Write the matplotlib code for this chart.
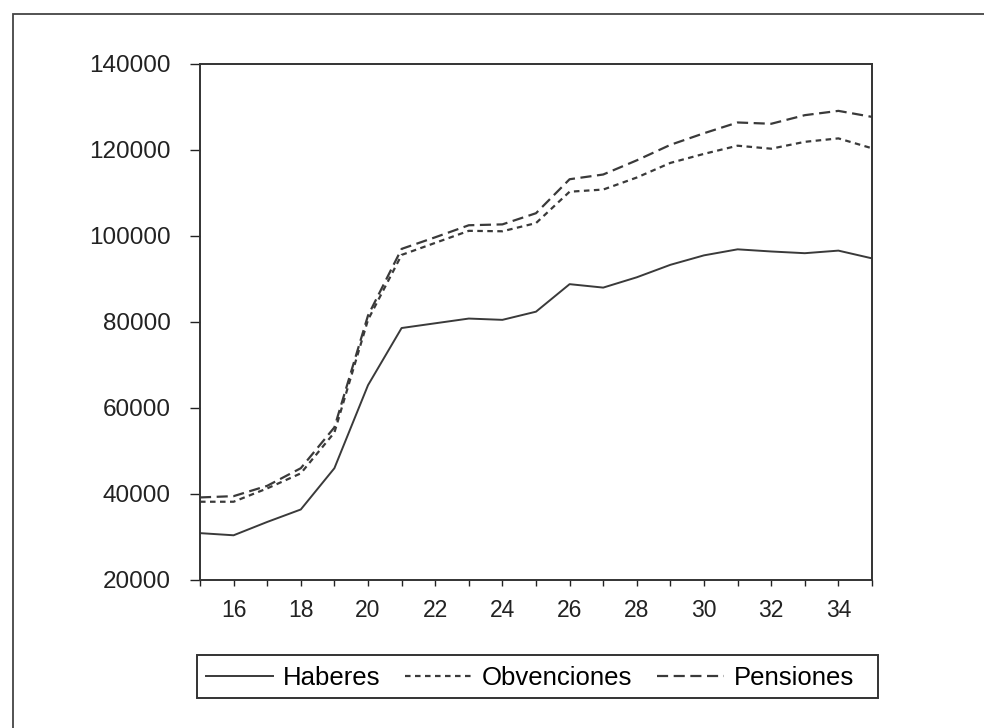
import matplotlib
matplotlib.use('Agg')
import matplotlib.pyplot as plt
from matplotlib.patches import Rectangle
from matplotlib.ticker import MultipleLocator

plt.rcParams['font.family'] = ['Liberation Sans', 'DejaVu Sans']

# datos
edad = list(range(15, 36))
haberes = [30900, 30400, 33500, 36400, 46000, 65300, 78600, 79700, 80800, 80500,
           82400, 88800, 88000, 90400, 93300, 95500, 96900, 96400, 96000, 96600, 94800]
obvenciones = [38200, 38200, 41300, 44800, 54300, 80500, 95600, 98400, 101200, 101100,
               103000, 110300, 110800, 113600, 117000, 119100, 121000, 120300, 121900, 122700, 120400]
pensiones = [39200, 39500, 41900, 46000, 55500, 81500, 97000, 99700, 102500, 102700,
             105300, 113200, 114300, 117600, 121200, 123900, 126400, 126100, 128100, 129100, 127700]

color_linea = '#3a3a3a'

fig = plt.figure(figsize=(9.84, 7.28), dpi=100)
ax = fig.add_axes([200/984, 1-580/728, 672/984, 516/728])

ax.plot(edad, haberes, color=color_linea, lw=1.4, linestyle='-', label='Haberes')
ax.plot(edad, obvenciones, color=color_linea, lw=1.6, linestyle=(0, (2.5, 2)), label='Obvenciones')
ax.plot(edad, pensiones, color=color_linea, lw=1.6, linestyle=(0, (5, 2.5)), label='Pensiones')

ax.set_xlim(15, 35)
ax.set_ylim(20000, 140000)
ax.xaxis.set_major_locator(MultipleLocator(2))
ax.xaxis.set_minor_locator(MultipleLocator(1))
ax.set_xticks(range(16, 35, 2))
ax.set_yticks(range(20000, 140001, 20000))

ax.tick_params(axis='y', direction='out', length=7, width=1, pad=14,
               labelsize=17.5, colors='#222222')
ax.tick_params(axis='x', which='both', direction='out', length=4, width=1, pad=10,
               labelsize=16.5, colors='#222222')

for s in ax.spines.values():
    s.set_color('#333333')
    s.set_linewidth(1.4)

# leyenda sin marco, el recuadro se dibuja aparte
fig.legend(loc='center left', bbox_to_anchor=(206/984, 1-678/728),
           ncol=3, fontsize=18.5, frameon=False, handlelength=2.6, handletextpad=0.4,
           columnspacing=0.95, borderaxespad=0, borderpad=0)
fig.patches.append(Rectangle((197/984, 1-698/728), 681/984, 43/728, transform=fig.transFigure,
                             fill=False, edgecolor='#333333', linewidth=1.4))

# marco exterior
fig.patches.append(Rectangle((13/984, -0.1), 1.2, 1-14/728+0.1, transform=fig.transFigure,
                             fill=False, edgecolor='#444444', linewidth=1.3))

fig.savefig('out.png', dpi=100)
